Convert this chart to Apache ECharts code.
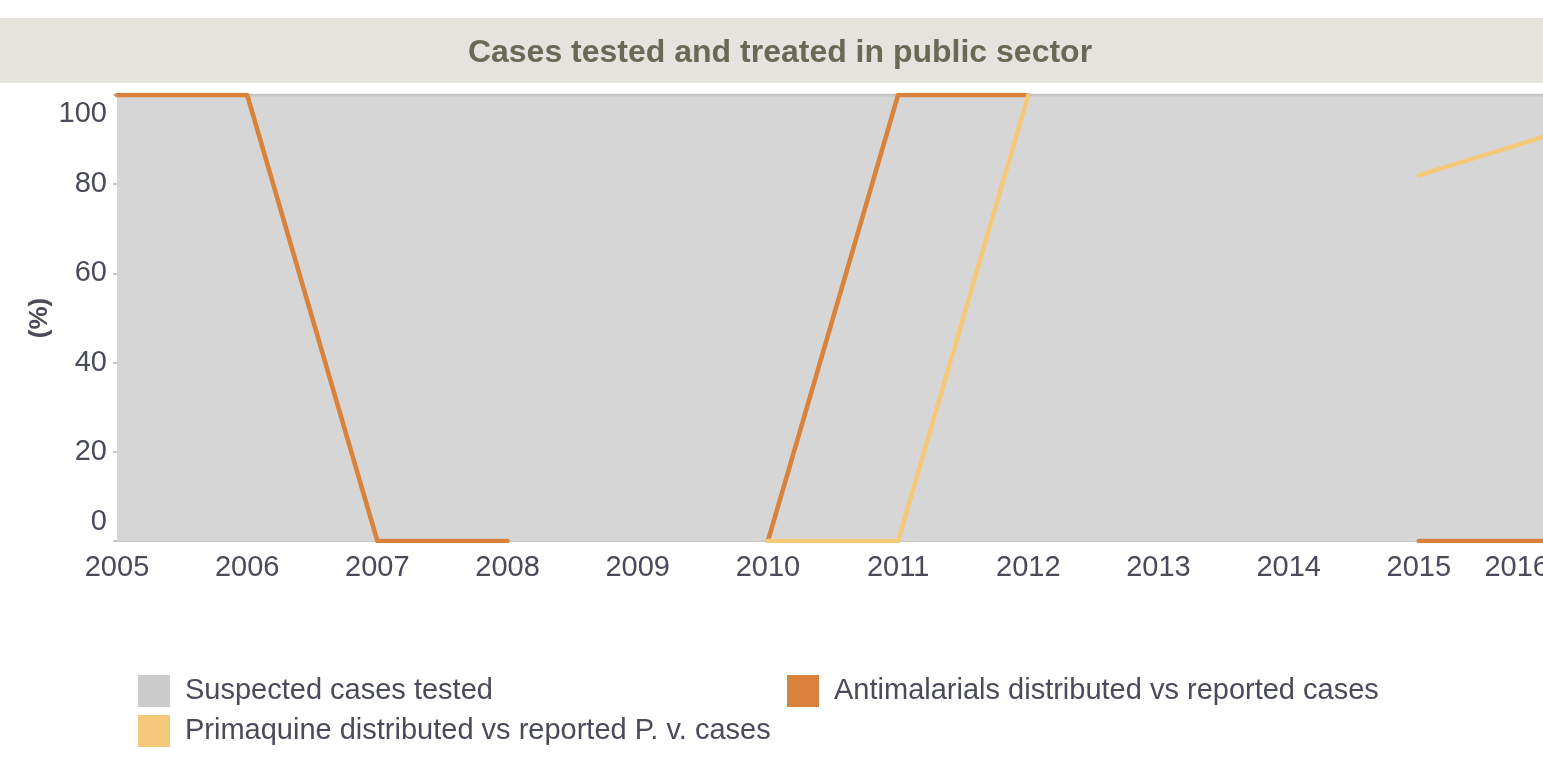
<!DOCTYPE html>
<html>
<head>
<meta charset="utf-8">
<script src="https://cdn.jsdelivr.net/npm/echarts@6/dist/echarts.min.js"></script>
<style>
    html, body { margin: 0; padding: 0; background: #fff; overflow: hidden; }
    #chart { width: 1560px; height: 768px; }
</style>
</head>
<body>
<div id="chart"></div>
<script>
// Cases tested and treated in public sector

const years = ['2005', '2006', '2007', '2008', '2009', '2010', '2011', '2012', '2013', '2014', '2015', '2016'];
const suspectedTested = [100, 100, 100, 100, 100, 100, 100, 100, 100, 100, 100, 100];
const antimalarials = [100, 100, 0, 0, null, 0, 100, 100, null, null, 0, 0];
const primaquine = [null, null, null, null, null, 0, 0, 100, null, null, 82, 91];
const yTicks = [0, 20, 40, 60, 80, 100];

const FONT = '"Liberation Sans", Arial, Helvetica, sans-serif';
const TEXT_COLOR = '#4a4b5a';

const chart = echarts.init(document.getElementById('chart'));

const option = {
    animation: false,
    backgroundColor: '#ffffff',
    textStyle: { fontFamily: FONT },
    // 标题背景条
    graphic: [
        {
            type: 'rect',
            left: 0,
            top: 18,
            shape: { width: 1560, height: 65 },
            style: { fill: '#e4e3de' },
            z: -1
        }
    ],
    title: {
        text: 'Cases tested and treated in public sector',
        left: 'center',
        top: 37,
        padding: 0,
        textStyle: {
            fontFamily: FONT,
            fontSize: 32,
            fontWeight: 'bold',
            color: '#6b6955'
        }
    },
    legend: {
        left: 133,
        top: 670,
        width: 1320,
        itemWidth: 32,
        itemHeight: 32,
        itemGap: 8,
        icon: 'rect',
        data: [
            { name: 'Suspected cases tested', itemStyle: { color: '#cccccc' } },
            { name: 'Antimalarials distributed vs reported cases', itemStyle: { color: '#d9823b' } },
            { name: 'Primaquine distributed vs reported P. v. cases', itemStyle: { color: '#f5c97a' } }
        ],
        textStyle: {
            fontFamily: FONT,
            fontSize: 29,
            color: TEXT_COLOR,
            width: 594,
            lineHeight: 32,
            padding: [0, 0, 0, 10]
        }
    },
    grid: {
        left: 117,
        right: 11,
        top: 95,
        bottom: 227,
        containLabel: false,
        outerBoundsMode: 'none'
    },
    xAxis: {
        type: 'category',
        data: years,
        boundaryGap: false,
        axisLine: { show: true, lineStyle: { color: '#c8c8c8', width: 2 } },
        axisTick: { show: false },
        axisLabel: {
            color: TEXT_COLOR,
            fontSize: 29,
            fontFamily: FONT,
            margin: 12,
            alignMaxLabel: 'right'
        },
        splitLine: { show: false }
    },
    yAxis: {
        type: 'value',
        min: yTicks[0],
        max: yTicks[yTicks.length - 1],
        interval: 20,
        name: '(%)',
        nameLocation: 'middle',
        nameGap: 64,
        nameMoveOverlap: false,
        nameTextStyle: {
            color: TEXT_COLOR,
            fontSize: 26,
            fontWeight: 'bold',
            fontFamily: FONT
        },
        axisLine: { show: false },
        axisTick: { show: true, length: 4, lineStyle: { color: '#c8c8c8', width: 2 } },
        axisLabel: {
            color: TEXT_COLOR,
            fontSize: 29,
            fontFamily: FONT,
            margin: 10,
            lineHeight: 38,
            verticalAlignMaxLabel: 'top',
            verticalAlignMinLabel: 'bottom'
        },
        splitLine: { show: true, lineStyle: { color: '#c9c9c9', width: 2 } }
    },
    series: [
        {
            name: 'Suspected cases tested',
            type: 'line',
            data: suspectedTested,
            color: '#cccccc',
            showSymbol: false,
            lineStyle: { color: '#c4c4c4', width: 3 },
            areaStyle: { color: '#d6d6d6', opacity: 1 },
            z: 1
        },
        {
            name: 'Antimalarials distributed vs reported cases',
            type: 'line',
            data: antimalarials,
            color: '#d9823b',
            showSymbol: false,
            lineStyle: { color: '#d9823b', width: 4.5, cap: 'round', join: 'round' },
            z: 3
        },
        {
            name: 'Primaquine distributed vs reported P. v. cases',
            type: 'line',
            data: primaquine,
            color: '#f5c97a',
            showSymbol: false,
            lineStyle: { color: '#f5c97a', width: 4.5, cap: 'round', join: 'round' },
            z: 4
        }
    ]
};

chart.setOption(option);

window.addEventListener('resize', function() {
    chart.resize();
});
</script>
</body>
</html>
